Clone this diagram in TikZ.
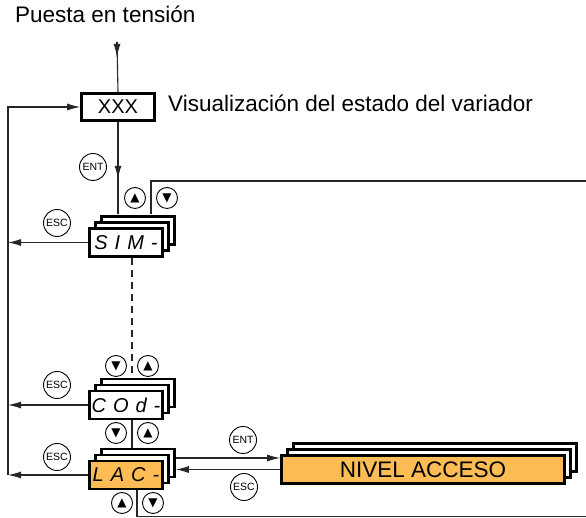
\documentclass[tikz,border=0pt]{standalone}
\usepackage{fontspec}
\setmainfont{Liberation Sans}
\newfontfamily\symfont{DejaVu Sans}
\usetikzlibrary{arrows.meta, shadows, calc}
\definecolor{accorange}{RGB}{253,188,84}
\tikzset{
    disp/.style={draw, line width=2.6pt, fill=white, minimum width=73pt, minimum height=28pt, inner sep=0pt,
        font=\fontsize{20}{20}\selectfont\itshape,
        double copy shadow={shadow xshift=6pt, shadow yshift=6pt, line width=2.6pt, draw=black, fill=white}},
    xbox/.style={draw, line width=2.6pt, minimum width=73pt, minimum height=27pt, inner sep=0pt, font=\fontsize{20}{20}\selectfont},
    key/.style={circle, draw, line width=0.9pt, minimum size=27pt, inner sep=0pt, font=\fontsize{10.5}{10.5}\selectfont},
    btn/.style={circle, draw, line width=0.9pt, minimum size=21pt, inner sep=0pt, font=\symfont\fontsize{12}{12}\selectfont},
    lbl/.style={font=\fontsize{22.5}{22.5}\selectfont, inner sep=0pt},
    conn/.style={draw=black!85, line width=1.1pt},
    arr/.style={conn, -{Latex[length=13pt, width=7pt]}},
}
\begin{document}
\begin{tikzpicture}[x=1pt, y=1pt]
    \useasboundingbox (0,0) rectangle (586,518);
    % top
    \node[lbl, anchor=base west] (pwr) at (15,495) {Puesta en tensión};
    \coordinate (pw) at (117,476);
    \node[xbox] (xxx) at (118,411) {XXX};
    \node[lbl, anchor=base west] (vis) at (168,406) {Visualización del estado del variador};
    \node[key] (ent1) at (93,351) {ENT};
    % menus
    \node[btn] (up1) at (135,320) {▲};
    \node[btn] (dn1) at (167,320) {▼};
    \node[disp] (sin) at (126,275.5) {S\hspace{7pt}I\hspace{7pt}M\hspace{7pt}-};
    \node[key] (esc1) at (57,295) {ESC};
    \node[btn] (dn2) at (116,152) {▼};
    \node[btn] (up2) at (148,152) {▲};
    \node[disp] (cod) at (126,113) {C\hspace{7pt}O\hspace{7pt}d\hspace{7pt}-};
    \node[key] (esc2) at (57,133) {ESC};
    \node[btn] (dn3) at (116,85) {▼};
    \node[btn] (up3) at (148,85) {▲};
    \node[disp, fill=accorange] (lac) at (126,43) {L\hspace{7pt}A\hspace{7pt}C\hspace{7pt}-};
    \node[key] (esc3) at (57,61) {ESC};
    \node[btn] (up4) at (122,15) {▲};
    \node[btn] (dn4) at (153,15) {▼};
    \node[key] (ent2) at (243,78) {ENT};
    \node[key] (esc4) at (244,31) {ESC};
    \node[disp, fill=accorange, minimum width=283pt, font=\fontsize{22.5}{22.5}\selectfont] (niv) at (423,48.5) {NIVEL ACCESO};
    % connectors
    \coordinate (L) at (8,43);
    \coordinate (sintop) at ([yshift=13pt]sin.north);
    \coordinate (lacR) at ([xshift=12pt, yshift=17pt]lac.east);
    \coordinate (r1) at (586,337);
    \coordinate (r2) at (586,1.5);
    \draw[conn] (pw) -- (xxx.north);
    \draw[arr] (pw) -- ++(0,-15);
    \draw[arr] (L) |- (xxx.west);
    \draw[conn] (xxx.south) -- (xxx.south |- sintop);
    \draw[arr] (xxx.south) -- ++(0,-57);
    \draw[conn] ([xshift=25pt]sintop) |- (r1);
    \draw[arr] (sin.west) -- (sin.west -| L);
    \draw[conn, dash pattern=on 7pt off 5pt] ([xshift=6pt]sin.south) -- ($(cod.north)+(6,12)$);
    \draw[arr] (cod.west) -- (cod.west -| L);
    \draw[conn] ([xshift=6pt]cod.south) -- ($(lac.north)+(6,12)$);
    \draw[arr] (lac.west) -- (L);
    \draw[conn] ([xshift=11pt]lac.south) |- (r2);
    \draw[arr] (lacR) -- (lacR -| niv.west);
    \draw[arr] (niv.west) -- (niv.west -| lacR);
\end{tikzpicture}
\end{document}
